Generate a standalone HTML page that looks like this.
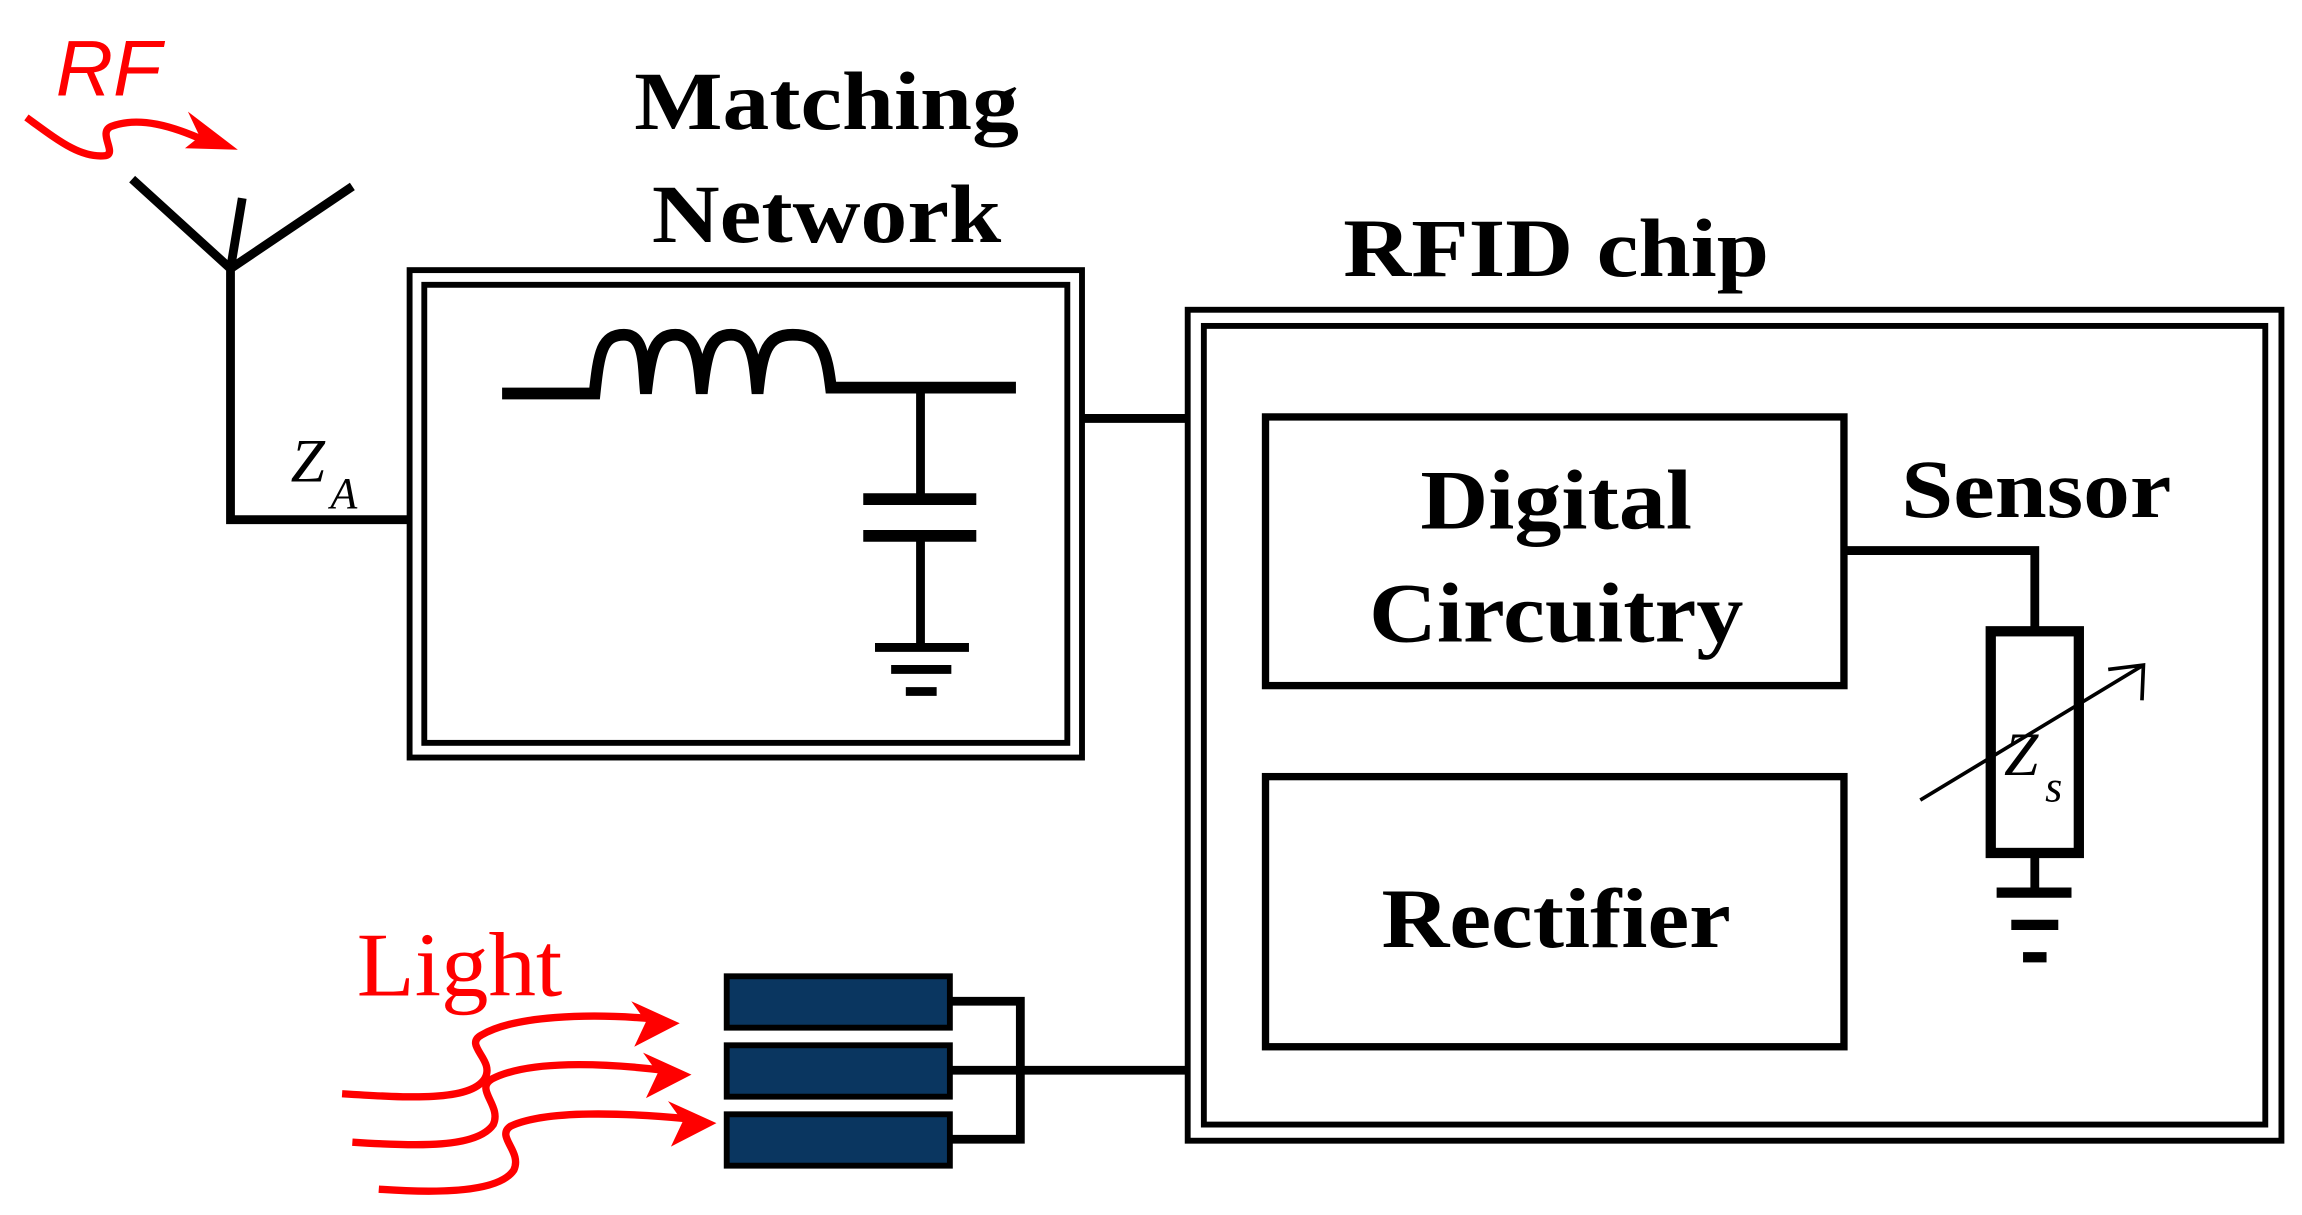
<!DOCTYPE html>
<html><head><meta charset="utf-8"><style>html,body{margin:0;padding:0;background:#fff}svg{display:block}</style></head>
<body>
<svg width="2302" height="1215" viewBox="0 0 1568 827.6" xmlns="http://www.w3.org/2000/svg">
<g fill="none" stroke="#000" stroke-width="5">
<path d="M90,122 L157,183 L165,135 M157,183 L240,127 M157,180 V354 H278" stroke-width="6"/>
<rect x="279" y="184" width="458" height="332" stroke-width="4"/>
<rect x="289" y="194" width="438" height="312" stroke-width="4"/>
<path d="M342,268 H405 C408,240 410,228 425,228 C440,228 438,250 440,268 C443,240 446,228 460,228 C476,228 476,250 478,268 C481,240 484,228 498,228 C514,228 514,250 516,268 C519,240 522,228 540,228 C560,228 563,240 566,264 H692" stroke-width="8"/>
<path d="M627,265 V340 M627,365 V440" stroke-width="6"/>
<path d="M588,340 H665 M588,365 H665" stroke-width="8"/>
<path d="M596,441 H660 M607,456 H648 M617,471 H638" stroke-width="6"/>
<path d="M738,285 H808" stroke-width="6"/>
<rect x="809" y="211" width="745" height="566" stroke-width="4"/>
<rect x="820" y="222" width="723" height="544" stroke-width="4"/>
<rect x="862" y="284" width="394" height="183" stroke-width="5"/>
<rect x="862" y="529" width="394" height="184" stroke-width="5"/>
<path d="M1256,375 H1386 V428 M1386,582 V607" stroke-width="6"/>
<rect x="1356" y="430" width="60" height="151" stroke-width="7"/>
<path d="M1360,608 H1411 M1370,630 H1402 M1378,652 H1394" stroke-width="7"/>
<path d="M1308,545 L1460,453 M1436,456 L1460,453 L1459,477" stroke-width="2.5"/>
<path d="M647,682 H695 V776 H647 M647,729 H808" stroke-width="6"/>
</g>
<g fill="#0a3660" stroke="#000" stroke-width="4">
<rect x="495" y="665" width="152" height="35"/>
<rect x="495" y="712" width="152" height="35"/>
<rect x="495" y="759" width="152" height="35"/>
</g>
<g fill="none" stroke="#f00" stroke-width="5">
<path d="M18,80 C40,96 55,108 72,106 C80,104 66,90 76,86 C95,79 118,86 140,96"/>
<path d="M233,745 C280,748 320,750 330,735 C338,722 315,712 328,705 C350,692 400,690 445,694"/>
<path d="M240,778 C285,781 325,782 336,766 C342,753 323,742 335,735 C360,722 410,724 452,729"/>
<path d="M258,810 C300,813 340,812 350,797 C356,784 337,774 348,767 C372,756 425,758 468,762"/>
</g>
<g fill="#f00">
<polygon points="162,102 126,101 136,93 128,76"/>
<polygon points="463,697 430,682 440,696 432,713"/>
<polygon points="471,732 438,717 448,731 440,748"/>
<polygon points="488,765 455,750 465,764 457,781"/>
</g>
<g font-family="'Liberation Serif',serif" fill="#000">
<text x="563" y="88" font-size="56" font-weight="bold" text-anchor="middle" textLength="262" lengthAdjust="spacingAndGlyphs">Matching</text>
<text x="563" y="165" font-size="56" font-weight="bold" text-anchor="middle" textLength="238" lengthAdjust="spacingAndGlyphs">Network</text>
<text x="1060" y="188" font-size="56" font-weight="bold" text-anchor="middle" textLength="290" lengthAdjust="spacingAndGlyphs">RFID chip</text>
<text x="1060" y="360" font-size="58" font-weight="bold" text-anchor="middle" textLength="185" lengthAdjust="spacingAndGlyphs">Digital</text>
<text x="1060" y="437" font-size="58" font-weight="bold" text-anchor="middle" textLength="255" lengthAdjust="spacingAndGlyphs">Circuitry</text>
<text x="1060" y="645" font-size="58" font-weight="bold" text-anchor="middle" textLength="238" lengthAdjust="spacingAndGlyphs">Rectifier</text>
<text x="1387" y="352" font-size="56" font-weight="bold" text-anchor="middle" textLength="184" lengthAdjust="spacingAndGlyphs">Sensor</text>
<text x="198" y="328" font-size="42" font-style="italic">Z</text>
<text x="225" y="346" font-size="30" font-style="italic">A</text>
<text x="1365" y="528" font-size="42" font-style="italic">Z</text>
<text x="1393" y="546" font-size="30" font-style="italic">s</text>
<text x="243" y="678" font-size="62" fill="#f00" textLength="140" lengthAdjust="spacingAndGlyphs">Light</text>
</g>
<text x="38" y="65" font-family="'Liberation Sans',sans-serif" font-style="italic" font-size="54" fill="#f00">RF</text>
</svg>
</body></html>
